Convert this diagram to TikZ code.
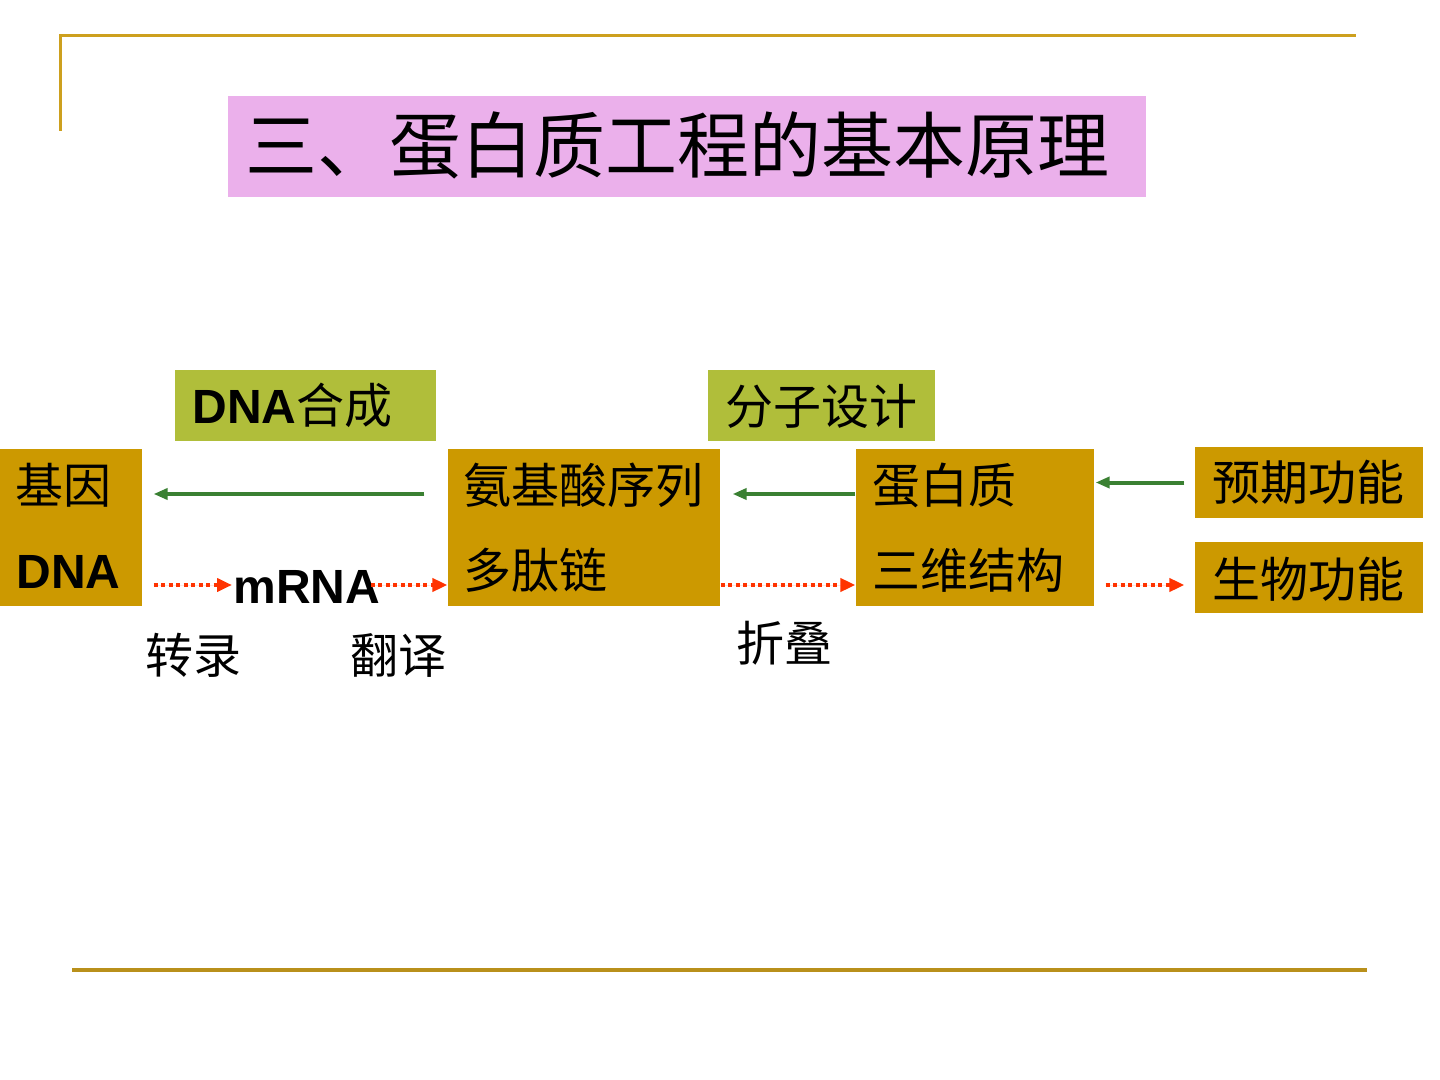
\documentclass[tikz,border=0pt]{standalone}
\usepackage{fontspec}
\setmainfont{Liberation Sans}
\newfontfamily\cjk{Noto Sans CJK SC}
\usepackage{tikz}
\usetikzlibrary{arrows.meta,positioning,calc}

\definecolor{goldbox}{RGB}{204,153,0}
\definecolor{olivebox}{RGB}{176,190,58}
\definecolor{pinkbox}{RGB}{235,176,235}
\definecolor{frameline}{RGB}{205,160,30}
\definecolor{synthgreen}{RGB}{58,128,50}
\definecolor{flowred}{RGB}{255,51,0}

\begin{document}
\begin{tikzpicture}[x=0.5pt,y=-0.5pt,semithick]
\tikzstyle{box}=[rectangle,draw=none,fill=goldbox,inner sep=0pt]
\tikzstyle{tag}=[rectangle,draw=none,fill=olivebox,inner sep=0pt,
minimum width=130.5pt,minimum height=35.5pt]
\tikzstyle{txt}=[anchor=base west,inner sep=0pt,text=black,
font=\cjk\fontsize{24}{28}\selectfont]
\tikzstyle{latin}=[anchor=base west,inner sep=0pt,text=black,
font=\bfseries\fontsize{24}{28}\selectfont]
\tikzstyle{synth}=[-{Triangle[length=7pt,width=5.5pt]},draw=synthgreen,fill=synthgreen,
line width=2pt]
\tikzstyle{flow}=[-{Triangle[length=7.5pt,width=6.5pt]},draw=flowred,fill=flowred,
line width=2pt,dash pattern=on 2pt off 1.75pt]

\useasboundingbox (0,0) rectangle (1440,1080);

%frame
\draw[frameline,line width=1.5pt] (60,131) -- (60,36) -- (1356,36);
\draw[frameline!90!black,line width=1.75pt] (72,970) -- (1367,970);

%title
\node[rectangle,fill=pinkbox,minimum width=459pt,minimum height=50.5pt,inner sep=0pt]
(head) at (687,146.5) {};
\node[txt,font=\cjk\fontsize{36}{40}\selectfont] (headtxt) at (245,173)
{三、蛋白质工程的基本原理};

%boxes
\node[box,minimum width=71pt,minimum height=78.5pt] (gene) at (71,527.5) {};
\node[box,minimum width=136pt,minimum height=78.5pt] (aa) at (584,527.5) {};
\node[box,minimum width=119pt,minimum height=78.5pt] (prot) at (975,527.5) {};
\node[box,minimum width=114pt,minimum height=35.5pt] (want) at (1309,482.5) {};
\node[box,minimum width=114pt,minimum height=35.5pt] (bio) at (1309,577.5) {};
\node[tag] (dnasyn) at (305.5,405.5) {};
\node[tag,minimum width=113.5pt] (design) at (821.5,405.5) {};

%box texts
\node[txt] (genetxt) at (15,503) {基因};
\node[latin] (dnatxt) at (16,588) {DNA};
\node[txt] (aatxt) at (463,503) {氨基酸序列};
\node[txt] (peptxt) at (463,588) {多肽链};
\node[txt] (prottxt) at (872,503) {蛋白质};
\node[txt] (structtxt) at (872,588) {三维结构};
\node[txt] (wanttxt) at (1212,501) {预期功能};
\node[txt] (biotxt) at (1212,597) {生物功能};
\node[txt] (dnasyntxt) at (192,423) {{\rmfamily\bfseries DNA}合成};
\node[txt] (designtxt) at (725,424) {分子设计};

%labels
\node[latin] (mrna) at (233,603) {mRNA};
\node[txt] (transc) at (145,673) {转录};
\node[txt] (transl) at (350,673) {翻译};
\node[txt] (fold) at (736,661) {折叠};

%design direction
\coordinate (higha) at ([yshift=16.75pt]aa.west);
\coordinate (highp) at ([yshift=16.75pt]prot.west);
\draw[synth,shorten <=11.5pt,shorten >=5.5pt] (higha) -- (gene.east |- higha);
\draw[synth,shorten >=6pt] (highp) -- (aa.east |- highp);
\draw[synth,shorten <=5pt,shorten >=0.5pt] (want.west) -- (prot.east |- want.west);

%natural direction
\coordinate (lowg) at ([yshift=-28.75pt]gene.east);
\coordinate (lowa) at ([yshift=-28.75pt]aa.west);
\coordinate (lowp) at ([yshift=-28.75pt]prot.east);
\draw[flow,shorten <=5.5pt,shorten >=0.5pt] (lowg) -- (mrna.west |- lowg);
\draw[flow,shorten <=-5pt] (mrna.east |- lowa) -- (lowa);
\draw[flow] ([yshift=-28.75pt]aa.east) -- ([yshift=-28.75pt]prot.west);
\draw[flow,shorten <=5.5pt,shorten >=5pt] (lowp) -- (bio.west |- lowp);

\end{tikzpicture}
\end{document}
